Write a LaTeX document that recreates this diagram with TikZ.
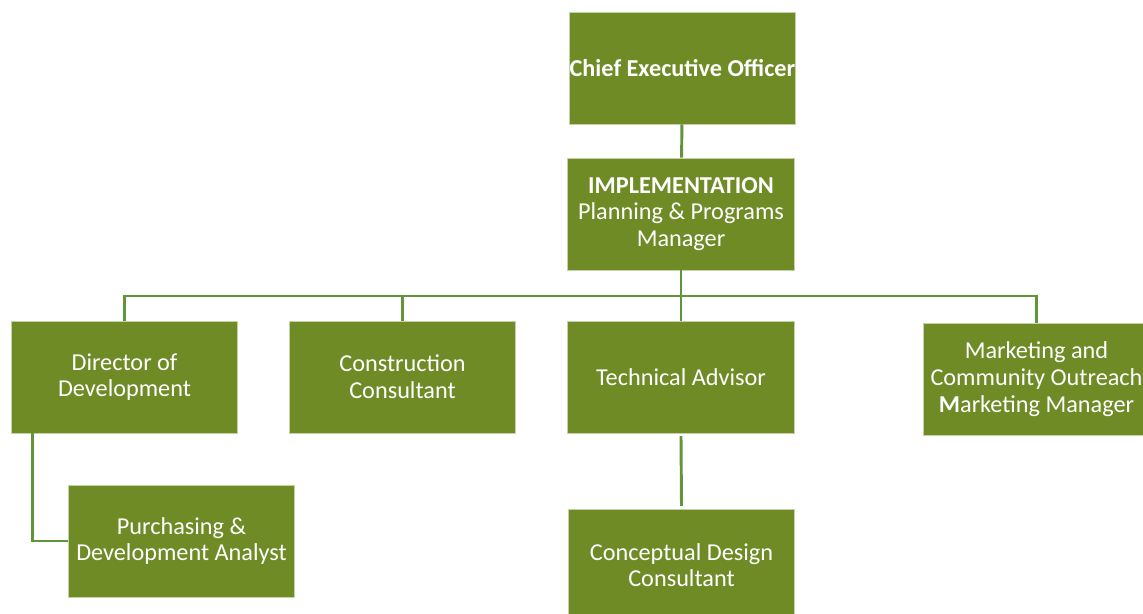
\documentclass[tikz,border=0pt]{standalone}
\usepackage{fontspec}
\setmainfont{Carlito}
\definecolor{boxgreen}{RGB}{111,139,38}
\definecolor{linegreen}{RGB}{98,148,58}
\begin{document}
\begin{tikzpicture}[x=0.75pt,y=-0.75pt,
    box/.style={fill=boxgreen, draw=boxgreen!40!white, line width=0.6pt,
        minimum width=170pt, minimum height=84pt, inner sep=0pt,
        text=white, align=center, font=\fontsize{18.2}{20}\selectfont},
    link/.style={linegreen, line width=2.2pt}]
    \useasboundingbox (0,0) rectangle (1143,614);

    % top of the chart
    \node[box] (ceo) at (682.5,68) {\textbf{Chief Executive Officer}};
    \node[box] (impl) at (681,214) {\textbf{IMPLEMENTATION}\\Planning \& Programs\\Manager};

    % second row
    \node[box] (dir) at (124.5,377) {Director of\\Development};
    \node[box] (cons) at (402.5,377) {Construction\\Consultant};
    \node[box] (tech) at (681,377) {Technical Advisor};
    \node[box] (mkt) at (1036.5,379) {Marketing and\\Community Outreach\\\textbf{M}arketing Manager};

    % third row
    \node[box] (purch) at (181.5,541) {Purchasing \&\\Development Analyst};
    \node[box] (concept) at (681.5,565) {Conceptual Design\\Consultant};

    \coordinate (bus) at (680,296);

    \draw[link] (ceo) -- (impl);
    \draw[link] (impl.south) -- (tech.north);
    \draw[link] (dir.north) |- (bus) -| (mkt.north);
    \draw[link] (cons.north) -- (cons.north |- bus);
    \draw[link] ([xshift=16.5pt]dir.south west) |- (purch.west);
    \draw[link] ([yshift=-2pt]tech.south) -- ([yshift=2pt]concept.north);
\end{tikzpicture}
\end{document}
